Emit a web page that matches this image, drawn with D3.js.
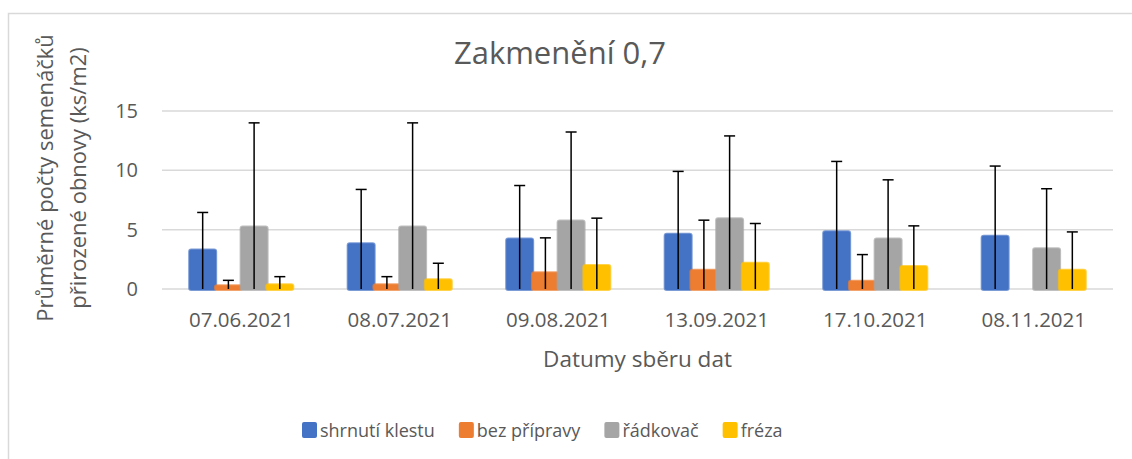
<!DOCTYPE html>
<html>
<head>
<meta charset="utf-8">
<script src="https://cdn.jsdelivr.net/npm/d3@7"></script>
<style>
  body { margin: 0; background: #fff; }
  text { font-family: "Open Sans", sans-serif; fill: #595959; }
</style>
</head>
<body>
<svg width="1132" height="459"></svg>
<script>
// data
var categories = ["07.06.2021", "08.07.2021", "09.08.2021", "13.09.2021", "17.10.2021", "08.11.2021"];
var seriesNames = ["shrnutí klestu", "bez přípravy", "řádkovač", "fréza"];
var colors = ["#4472c4", "#ed7d31", "#a5a5a5", "#ffc000"];

var shrnuti  = [3.32, 3.86, 4.25, 4.65, 4.87, 4.48];
var bez      = [0.31, 0.40, 1.41, 1.63, 0.70, null];
var radkovac = [5.26, 5.26, 5.77, 5.97, 4.25, 3.44];
var freza    = [0.40, 0.82, 2.03, 2.22, 1.94, 1.63];

// plus error amounts
var errShrnuti  = [3.13, 4.53, 4.47, 5.26, 5.88, 5.88];
var errBez      = [0.42, 0.64, 2.90, 4.17, 2.20, null];
var errRadkovac = [8.74, 8.74, 7.46, 6.93, 4.95, 5.01];
var errFreza    = [0.64, 1.35, 3.94, 3.30, 3.38, 3.18];

var yTicks = [0, 5, 10, 15];

var values = [shrnuti, bez, radkovac, freza];
var errors = [errShrnuti, errBez, errRadkovac, errFreza];

var svg = d3.select("svg");

// chart frame (only top and left edges are inside the picture)
svg.append("path")
   .attr("d", "M8.5,1140 V13.5 H1140")
   .attr("fill", "none")
   .attr("stroke", "#d9d9d9")
   .attr("stroke-width", 1.5);

var plotLeft = 162, plotRight = 1113, plotTop = 111, plotBottom = 289;

var x = d3.scaleBand().domain(categories).range([plotLeft, plotRight]).paddingInner(0.351).paddingOuter(0.1755);
var xs = d3.scaleBand().domain(d3.range(seriesNames.length)).range([0, x.bandwidth()]);
var y = d3.scaleLinear().domain([0, 15]).range([plotBottom, plotTop]);

// gridlines
svg.append("g").selectAll("line")
   .data(yTicks)
   .enter().append("line")
   .attr("x1", plotLeft).attr("x2", plotRight)
   .attr("y1", function(d) { return y(d); })
   .attr("y2", function(d) { return y(d); })
   .attr("stroke", "#d9d9d9")
   .attr("stroke-width", 1.5);

// y tick labels
svg.append("g").selectAll("text")
   .data(yTicks)
   .enter().append("text")
   .attr("x", 138)
   .attr("y", function(d) { return y(d) + 7; })
   .attr("text-anchor", "end")
   .style("font-size", "20px")
   .text(function(d) { return d; });

// bars
var barW = 27;
var groups = svg.append("g").selectAll("g")
   .data(categories)
   .enter().append("g")
   .attr("transform", function(d) { return "translate(" + x(d) + ",0)"; });

groups.each(function(cat, ci) {
    var g = d3.select(this);
    seriesNames.forEach(function(s, si) {
        var v = values[si][ci];
        if (v == null) return;
        var cx = xs(si) + xs.bandwidth() / 2;
        g.append("rect")
         .attr("x", cx - barW / 2)
         .attr("y", y(v))
         .attr("width", barW)
         .attr("height", y(0) - y(v) + 1)
         .attr("rx", 2)
         .attr("fill", colors[si])
         .attr("stroke", colors[si])
         .attr("stroke-opacity", 0.7)
         .attr("stroke-width", 2);
    });
});

// error bars
groups.each(function(cat, ci) {
    var g = d3.select(this);
    seriesNames.forEach(function(s, si) {
        var v = values[si][ci], e = errors[si][ci];
        if (v == null || e == null) return;
        var cx = xs(si) + xs.bandwidth() / 2;
        g.append("line")
         .attr("x1", cx).attr("x2", cx)
         .attr("y1", y(0)).attr("y2", y(v + e))
         .attr("stroke", "#000").attr("stroke-width", 1.5);
        g.append("line")
         .attr("x1", cx - 5.5).attr("x2", cx + 5.5)
         .attr("y1", y(v + e)).attr("y2", y(v + e))
         .attr("stroke", "#000").attr("stroke-width", 1.5);
    });
});

// x tick labels
svg.append("g").selectAll("text")
   .data(categories)
   .enter().append("text")
   .attr("x", function(d) { return x(d) + x.bandwidth() / 2; })
   .attr("y", 327)
   .attr("text-anchor", "middle")
   .style("font-size", "20.5px")
   .text(function(d) { return d; });

// title
svg.append("text")
   .attr("x", 560).attr("y", 64)
   .attr("text-anchor", "middle")
   .style("font-size", "31px")
   .text("Zakmenění 0,7");

// axis titles
svg.append("text")
   .attr("x", (plotLeft + plotRight) / 2).attr("y", 367)
   .attr("text-anchor", "middle")
   .style("font-size", "22.5px")
   .text("Datumy sběru dat");

svg.append("text")
   .attr("transform", "translate(53,178) rotate(-90)")
   .attr("text-anchor", "middle")
   .style("font-size", "22px")
   .text("Průměrné počty semenáčků");

svg.append("text")
   .attr("transform", "translate(86,178) rotate(-90)")
   .attr("text-anchor", "middle")
   .style("font-size", "22px")
   .text("přirozené obnovy (ks/m2)");

// legend
var lx = 302;
seriesNames.forEach(function(s, i) {
    svg.append("rect")
       .attr("x", lx).attr("y", 422)
       .attr("width", 15).attr("height", 16)
       .attr("rx", 2)
       .attr("fill", colors[i]);
    var t = svg.append("text")
       .attr("x", lx + 18).attr("y", 437)
       .style("font-size", "18px")
       .text(s);
    lx += 18 + t.node().getComputedTextLength() + 24;
});
</script>
</body>
</html>
